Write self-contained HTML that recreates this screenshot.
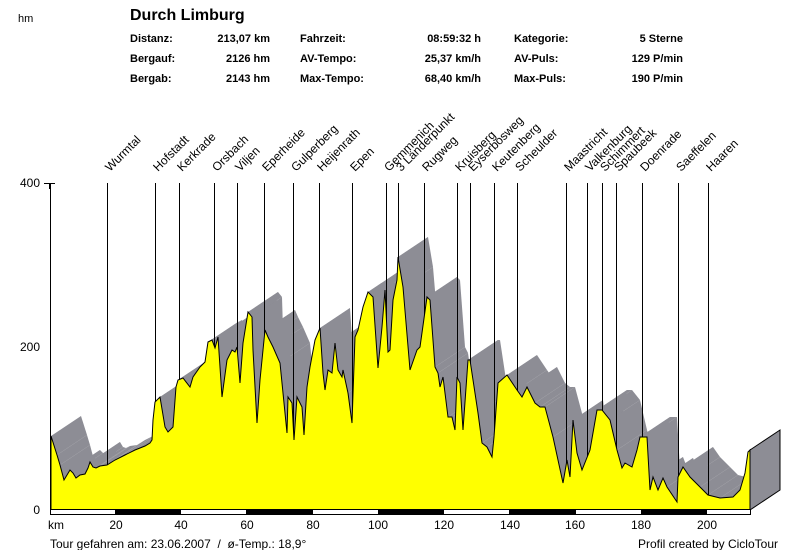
<!DOCTYPE html>
<html><head><meta charset="utf-8"><style>
body{margin:0;background:#fff}
svg{display:block;font-family:"Liberation Sans",Arial,sans-serif}
</style></head><body>
<svg id="s" width="800" height="550" xmlns="http://www.w3.org/2000/svg">
<g id="gray" fill="#8d8d95" stroke="none"></g>
<g stroke="#000" stroke-width="1" id="vl"></g>
<polygon id="yel" fill="#ffff00" stroke="#000" stroke-width="1"/>
<polygon points="750,450 780,430 780,490 750,510" fill="#8d8d95" stroke="#000"/>
<line x1="50.5" y1="183" x2="50.5" y2="510" stroke="#000"/>
<rect x="50.5" y="509.5" width="700" height="5" fill="#fff" stroke="#000"/>
<rect x="115" y="510" width="66" height="4" fill="#000"/>
<rect x="246" y="510" width="67" height="4" fill="#000"/>
<rect x="378" y="510" width="66" height="4" fill="#000"/>
<rect x="509" y="510" width="67" height="4" fill="#000"/>
<rect x="641" y="510" width="66" height="4" fill="#000"/>
<g stroke="#000"><line x1="44" y1="183.5" x2="55" y2="183.5"/><line x1="49.5" y1="183" x2="49.5" y2="189"/></g>
<g font-size="12" fill="#000">
<text x="18" y="22" font-size="11">hm</text>
<text x="40" y="187" text-anchor="end">400</text>
<text x="40" y="351" text-anchor="end">200</text>
<text x="40" y="514" text-anchor="end">0</text>
<text x="48" y="529">km</text>
<text x="116" y="529" text-anchor="middle">20</text>
<text x="181" y="529" text-anchor="middle">40</text>
<text x="247" y="529" text-anchor="middle">60</text>
<text x="313" y="529" text-anchor="middle">80</text>
<text x="378" y="529" text-anchor="middle">100</text>
<text x="444" y="529" text-anchor="middle">120</text>
<text x="510" y="529" text-anchor="middle">140</text>
<text x="575" y="529" text-anchor="middle">160</text>
<text x="641" y="529" text-anchor="middle">180</text>
<text x="707" y="529" text-anchor="middle">200</text>
<text x="50" y="548">Tour gefahren am: 23.06.2007&#160;&#160;/&#160;&#160;ø-Temp.: 18,9°</text>
<text x="778" y="548" text-anchor="end">Profil created by CicloTour</text>
</g>
<text x="130" y="20" font-size="16" font-weight="bold">Durch Limburg</text>
<g font-size="11" font-weight="bold">
<text x="130" y="42">Distanz:</text><text x="270" y="42" text-anchor="end">213,07 km</text>
<text x="130" y="62">Bergauf:</text><text x="270" y="62" text-anchor="end">2126 hm</text>
<text x="130" y="82">Bergab:</text><text x="270" y="82" text-anchor="end">2143 hm</text>
<text x="300" y="42">Fahrzeit:</text><text x="481" y="42" text-anchor="end">08:59:32 h</text>
<text x="300" y="62">AV-Tempo:</text><text x="481" y="62" text-anchor="end">25,37 km/h</text>
<text x="300" y="82">Max-Tempo:</text><text x="481" y="82" text-anchor="end">68,40 km/h</text>
<text x="514" y="42">Kategorie:</text><text x="683" y="42" text-anchor="end">5 Sterne</text>
<text x="514" y="62">AV-Puls:</text><text x="683" y="62" text-anchor="end">129 P/min</text>
<text x="514" y="82">Max-Puls:</text><text x="683" y="82" text-anchor="end">190 P/min</text>
</g>
<g id="lab" font-size="12"></g>
</svg>
<script>
var P=[[51,436],[57,455],[60,465],[64,480],[67,475],[70,470],[73,473],[76,478],[80,475],[85,474],[88,468],[90,462],[93,467],[96,468],[100,466],[107,465],[115,460],[125,455],[135,450],[145,446],[150,443],[152,440],[153,420],[155,402],[160,397],[165,427],[168,432],[173,427],[176,387],[178,380],[183,378],[190,387],[193,377],[200,367],[205,362],[208,342],[212,340],[215,348],[218,337],[222,397],[227,360],[232,350],[235,352],[237,347],[240,383],[243,343],[248,312],[252,317],[253,350],[257,423],[260,380],[265,330],[268,337],[273,347],[280,363],[287,433],[288,397],[292,403],[294,440],[297,397],[302,407],[304,435],[307,387],[310,367],[315,340],[320,328],[323,373],[325,390],[328,370],[332,373],[335,343],[338,370],[342,377],[343,370],[348,393],[352,423],[355,337],[358,330],[363,307],[368,292],[373,297],[378,368],[382,327],[385,290],[388,352],[390,350],[393,300],[397,280],[398,257],[403,287],[410,370],[417,350],[420,347],[427,297],[430,300],[435,367],[438,373],[440,387],[443,377],[448,417],[452,417],[455,430],[457,377],[460,383],[463,430],[468,360],[470,360],[478,413],[482,443],[487,447],[492,457],[494,437],[498,383],[507,375],[517,390],[522,397],[527,387],[535,403],[540,407],[545,407],[553,437],[563,483],[567,460],[570,477],[573,420],[577,453],[582,470],[590,450],[597,410],[602,410],[610,420],[617,450],[622,468],[625,463],[632,467],[637,450],[640,437],[647,437],[650,490],[653,477],[658,490],[663,478],[667,487],[677,502],[678,477],[683,467],[690,477],[700,487],[708,495],[720,498],[733,497],[740,490],[745,473],[748,452],[750,450]];
var ox=30,oy=-20,NS="http://www.w3.org/2000/svg";
var g=document.getElementById('gray');
for(var i=0;i<P.length-1;i++){var a=P[i],b=P[i+1];var q=document.createElementNS(NS,'polygon');
q.setAttribute('points',a[0]+','+a[1]+' '+b[0]+','+b[1]+' '+(b[0]+ox)+','+(b[1]+oy)+' '+(a[0]+ox)+','+(a[1]+oy));g.appendChild(q);}
var pts=P.map(function(p){return p.join(',')}).join(' ')+' 750,510 51,510';
document.getElementById('yel').setAttribute('points',pts);
var L=[["Wurmtal",107],["Hofstadt",155],["Kerkrade",179],["Orsbach",214],["Viljen",237],["Eperheide",264],["Gulperberg",293],["Heijenrath",319],["Epen",352],["Gemmenich",386],["3 Länderpunkt",398],["Rugweg",424],["Kruisberg",457],["Eyserbosweg",470],["Keutenberg",494],["Scheulder",517],["Maastricht",566],["Valkenburg",587],["Schimmert",602],["Spaubeek",616],["Doenrade",642],["Saeffelen",678],["Haaren",708]];
var vl=document.getElementById('vl'),lab=document.getElementById('lab');
L.forEach(function(l){var x=l[1]+0.5;var ln=document.createElementNS(NS,'line');ln.setAttribute('x1',x);ln.setAttribute('x2',x);ln.setAttribute('y1',183);ln.setAttribute('y2',510);vl.appendChild(ln);
var t=document.createElementNS(NS,'text');var tx=l[1]+3,ty=172;t.setAttribute('x',tx);t.setAttribute('y',ty);t.setAttribute('transform','rotate(-45 '+tx+' '+ty+')');t.textContent=l[0];lab.appendChild(t);});
</script>
</body></html>
